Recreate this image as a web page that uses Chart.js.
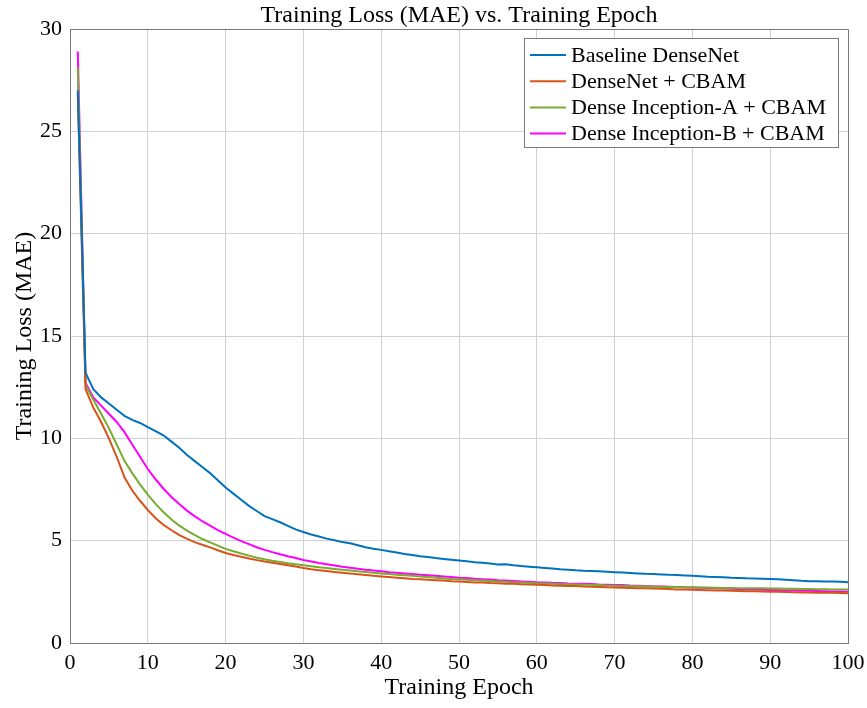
<!DOCTYPE html>
<html lang="en">
  <head>
    <meta charset="UTF-8" />
    <title>Training Loss (MAE) vs. Training Epoch</title>
    <style>
      body {
        margin: 0;
        padding: 0;
        background-color: #ffffff;
      }
      .chart-container {
        width: 867px;
        height: 708px;
      }
    </style>
  </head>
  <body>
    <div class="chart-container">
      <canvas id="myChart"></canvas>
    </div>
    <script src="https://cdn.jsdelivr.net/npm/chart.js@4.4.0/dist/chart.umd.min.js"></script>
    <script>
      const epochs = Array.from({ length: 100 }, (_, i) => i + 1);
      const xTicks = [0, 10, 20, 30, 40, 50, 60, 70, 80, 90, 100];
      const yTicks = [0, 5, 10, 15, 20, 25, 30];

      const seriesNames = [
        "Baseline DenseNet",
        "DenseNet + CBAM",
        "Dense Inception-A + CBAM",
        "Dense Inception-B + CBAM",
      ];

      const baseline = [
        27.0, 13.2, 12.4, 12.0, 11.7, 11.4, 11.1, 10.9, 10.75, 10.55,
        10.35, 10.15, 9.85, 9.55, 9.2, 8.9, 8.6, 8.3, 7.95, 7.6,
        7.3, 7.0, 6.7, 6.45, 6.2, 6.05, 5.9, 5.72, 5.55, 5.42,
        5.3, 5.2, 5.1, 5.02, 4.93, 4.87, 4.78, 4.68, 4.6, 4.55,
        4.48, 4.42, 4.35, 4.3, 4.24, 4.2, 4.15, 4.11, 4.07, 4.03,
        3.99, 3.95, 3.92, 3.89, 3.84, 3.85, 3.8, 3.76, 3.73, 3.7,
        3.67, 3.64, 3.6, 3.58, 3.55, 3.53, 3.52, 3.5, 3.48, 3.46,
        3.44, 3.42, 3.4, 3.38, 3.37, 3.35, 3.33, 3.32, 3.3, 3.28,
        3.26, 3.24, 3.23, 3.21, 3.19, 3.18, 3.16, 3.15, 3.14, 3.13,
        3.11, 3.09, 3.07, 3.04, 3.02, 3.02, 3.01, 3.0, 2.99, 2.97,
      ];
      const denseCbam = [
        26.8, 12.4, 11.5, 10.8, 10.0, 9.1, 8.1, 7.45, 6.95, 6.5,
        6.1, 5.78, 5.52, 5.28, 5.1, 4.93, 4.8, 4.67, 4.53, 4.4,
        4.3, 4.21, 4.13, 4.05, 3.98, 3.92, 3.86, 3.8, 3.74, 3.66,
        3.6, 3.56, 3.52, 3.47, 3.43, 3.39, 3.36, 3.32, 3.28, 3.25,
        3.22, 3.19, 3.16, 3.13, 3.11, 3.09, 3.07, 3.05, 3.02, 3.0,
        2.98, 2.96, 2.95, 2.93, 2.92, 2.9, 2.89, 2.87, 2.86, 2.84,
        2.83, 2.81, 2.8, 2.79, 2.78, 2.76, 2.75, 2.74, 2.72, 2.71,
        2.7, 2.69, 2.68, 2.67, 2.66, 2.65, 2.64, 2.62, 2.61, 2.6,
        2.59, 2.58, 2.57, 2.56, 2.55, 2.54, 2.53, 2.53, 2.52, 2.51,
        2.5, 2.49, 2.48, 2.47, 2.47, 2.46, 2.45, 2.45, 2.44, 2.43,
      ];
      const inceptionA = [
        28.1, 12.6, 11.9, 11.2, 10.5, 9.7, 8.9, 8.3, 7.75, 7.25,
        6.8, 6.4, 6.05, 5.75, 5.5, 5.28, 5.08, 4.92, 4.76, 4.6,
        4.48, 4.37, 4.27, 4.17, 4.09, 4.02, 3.96, 3.9, 3.85, 3.8,
        3.75, 3.7, 3.66, 3.62, 3.58, 3.54, 3.5, 3.47, 3.43, 3.4,
        3.37, 3.34, 3.31, 3.28, 3.25, 3.22, 3.19, 3.16, 3.13, 3.11,
        3.09, 3.07, 3.05, 3.03, 3.01, 2.99, 2.97, 2.96, 2.94, 2.92,
        2.91, 2.9, 2.88, 2.87, 2.86, 2.85, 2.84, 2.83, 2.81, 2.8,
        2.79, 2.78, 2.77, 2.77, 2.76, 2.75, 2.74, 2.74, 2.73, 2.72,
        2.71, 2.71, 2.7, 2.69, 2.69, 2.68, 2.68, 2.67, 2.67, 2.66,
        2.66, 2.65, 2.65, 2.64, 2.64, 2.63, 2.63, 2.62, 2.62, 2.61,
      ];
      const inceptionB = [
        28.9, 12.7, 12.0, 11.6, 11.2, 10.8, 10.3, 9.7, 9.1, 8.5,
        8.0, 7.55, 7.15, 6.8, 6.48, 6.2, 5.95, 5.73, 5.52, 5.33,
        5.15, 4.98, 4.83, 4.68, 4.55, 4.44, 4.34, 4.24, 4.15, 4.06,
        3.98, 3.91, 3.85, 3.79, 3.73, 3.68, 3.63, 3.58, 3.54, 3.5,
        3.46, 3.43, 3.4, 3.37, 3.34, 3.31, 3.28, 3.25, 3.22, 3.19,
        3.17, 3.14, 3.12, 3.1, 3.07, 3.05, 3.03, 3.01, 2.99, 2.97,
        2.96, 2.94, 2.93, 2.91, 2.9, 2.89, 2.88, 2.86, 2.85, 2.84,
        2.83, 2.81, 2.8, 2.79, 2.77, 2.76, 2.75, 2.74, 2.72, 2.71,
        2.7, 2.69, 2.68, 2.66, 2.65, 2.64, 2.63, 2.62, 2.6, 2.59,
        2.58, 2.57, 2.56, 2.55, 2.55, 2.54, 2.53, 2.52, 2.52, 2.51,
      ];

      const colors = ["#0072BD", "#D95319", "#77AC30", "#FF00FF"];
      const allSeries = [baseline, denseCbam, inceptionA, inceptionB];

      const serif = "'Liberation Serif', 'Times New Roman', serif";

      const data = {
        datasets: allSeries.map((values, i) => ({
          label: seriesNames[i],
          data: values.map((v, j) => ({ x: epochs[j], y: v })),
          borderColor: colors[i],
          backgroundColor: colors[i],
          borderWidth: 2,
          pointRadius: 0,
          tension: 0,
          fill: false,
        })),
      };

      // top + right axes lines and the title over the plot area
      const framePlugin = {
        id: "frame",
        afterDraw(chart) {
          const { ctx, chartArea: a } = chart;
          ctx.save();
          ctx.strokeStyle = "#7a7a7a";
          ctx.lineWidth = 1;
          ctx.beginPath();
          ctx.moveTo(a.left, a.top + 0.5);
          ctx.lineTo(a.right + 0.5, a.top + 0.5);
          ctx.lineTo(a.right + 0.5, a.bottom);
          ctx.stroke();

          ctx.fillStyle = "#000";
          ctx.font = "24px " + serif;
          ctx.textAlign = "center";
          ctx.textBaseline = "alphabetic";
          ctx.fillText("Training Loss (MAE) vs. Training Epoch", (a.left + a.right) / 2, 22);
          ctx.restore();
        },
      };

      // MATLAB-like legend box in the top right corner
      const legendPlugin = {
        id: "boxLegend",
        afterDraw(chart) {
          const { ctx, chartArea: a } = chart;
          const boxRight = a.right - 10;
          const boxLeft = boxRight - 314;
          const boxTop = a.top + 9;
          const boxH = 109;
          ctx.save();
          ctx.fillStyle = "#fff";
          ctx.fillRect(boxLeft, boxTop, boxRight - boxLeft, boxH);
          ctx.strokeStyle = "#7a7a7a";
          ctx.lineWidth = 1;
          ctx.strokeRect(boxLeft + 0.5, boxTop + 0.5, boxRight - boxLeft, boxH);
          ctx.font = "22px " + serif;
          ctx.textBaseline = "middle";
          ctx.textAlign = "left";
          chart.data.datasets.forEach((ds, i) => {
            const y = boxTop + 17 + i * 26.2;
            ctx.strokeStyle = ds.borderColor;
            ctx.lineWidth = 2;
            ctx.beginPath();
            ctx.moveTo(boxLeft + 6, y);
            ctx.lineTo(boxLeft + 42, y);
            ctx.stroke();
            ctx.fillStyle = "#000";
            ctx.fillText(ds.label, boxLeft + 47, y + 1);
          });
          ctx.restore();
        },
      };

      const config = {
        type: "line",
        data: data,
        options: {
          responsive: true,
          maintainAspectRatio: false,
          animation: false,
          layout: {
            padding: { top: 29, right: 19, left: 0, bottom: 0 },
          },
          plugins: {
            legend: { display: false },
            title: { display: false },
            tooltip: { enabled: false },
          },
          scales: {
            x: {
              type: "linear",
              min: 0,
              max: 100,
              afterBuildTicks: (s) => {
                s.ticks = xTicks.map((v) => ({ value: v }));
              },
              afterFit: (s) => {
                s.height = 65;
                s.paddingLeft = 0;
                s.paddingRight = 0;
              },
              ticks: {
                color: "#000",
                font: { family: serif, size: 22 },
                padding: 7,
                maxRotation: 0,
              },
              grid: { color: "#d0d0d0", drawTicks: false },
              border: { color: "#7a7a7a" },
              title: {
                display: true,
                text: "Training Epoch",
                color: "#000",
                font: { family: serif, size: 24 },
                padding: { top: 0, bottom: 6 },
              },
            },
            y: {
              min: 0,
              max: 30,
              afterBuildTicks: (s) => {
                s.ticks = yTicks.map((v) => ({ value: v }));
              },
              afterFit: (s) => {
                s.width = 70;
                s.paddingTop = 0;
                s.paddingBottom = 0;
              },
              ticks: {
                color: "#000",
                font: { family: serif, size: 22 },
                padding: 8,
              },
              grid: { color: "#d0d0d0", drawTicks: false },
              border: { color: "#7a7a7a" },
              title: {
                display: true,
                text: "Training Loss (MAE)",
                color: "#000",
                font: { family: serif, size: 24 },
                padding: { top: 10, bottom: 0 },
              },
            },
          },
        },
        plugins: [framePlugin, legendPlugin],
      };

      const ctx = document.getElementById("myChart").getContext("2d");
      const myChart = new Chart(ctx, config);
    </script>
  </body>
</html>
